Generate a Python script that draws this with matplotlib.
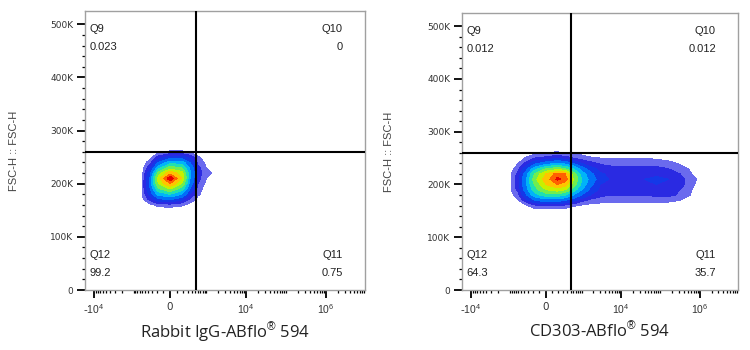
import numpy as np
import matplotlib
matplotlib.use('Agg')
import matplotlib.pyplot as plt

plt.rcParams['mathtext.fontset'] = 'custom'
plt.rcParams['mathtext.rm'] = 'Liberation Sans'
plt.rcParams['mathtext.it'] = 'Liberation Sans:italic'

# ---- data ----
x_gate = 530
y_gate = 260000
y_top = 525000
x_min, x_max = -16700, 9.4e6

# FSC-H rows of the density grid
fsc_rows = [150000, 160000, 170000, 180000, 190000, 200000, 210000,
            220000, 230000, 240000, 250000, 260000, 270000]

# left panel (isotype) density, columns = fluorescence
left_cols = [-1000, -600, -350, -180, 0, 180, 350, 600, 1000, 1700, 3000]
left_density = [
    [0, 0, 0, 0, 0, 0, 0, 0, 0, 0, 0],
    [0, 0, 0.02, 0.06, 0.07, 0.05, 0.02, 0, 0, 0, 0],
    [0, 0.02, 0.12, 0.22, 0.25, 0.18, 0.08, 0.02, 0, 0, 0],
    [0, 0.03, 0.20, 0.38, 0.45, 0.35, 0.17, 0.05, 0, 0, 0],
    [0, 0.04, 0.25, 0.52, 0.65, 0.50, 0.25, 0.07, 0, 0, 0],
    [0, 0.04, 0.28, 0.65, 0.85, 0.65, 0.32, 0.10, 0.02, 0, 0],
    [0, 0.03, 0.27, 0.70, 1.00, 0.75, 0.36, 0.12, 0.04, 0.02, 0],
    [0, 0.02, 0.22, 0.58, 0.82, 0.70, 0.38, 0.13, 0.05, 0.03, 0],
    [0, 0, 0.15, 0.40, 0.60, 0.55, 0.33, 0.12, 0.04, 0.02, 0],
    [0, 0, 0.07, 0.25, 0.40, 0.40, 0.25, 0.08, 0.02, 0, 0],
    [0, 0, 0.02, 0.12, 0.20, 0.20, 0.14, 0.05, 0, 0, 0],
    [0, 0, 0, 0.02, 0.05, 0.05, 0.03, 0, 0, 0, 0],
    [0, 0, 0, 0, 0, 0, 0, 0, 0, 0, 0],
]

# right panel (CD303) density
right_cols = [-1000, -600, -350, -180, 0, 180, 350, 600, 1000, 1700, 3000,
              5500, 10000, 20000, 40000, 80000, 160000, 320000, 640000, 1200000]
right_density = [
    [0] * 20,
    [0, 0, 0.03, 0.08, 0.10, 0.10, 0.08, 0.05, 0.03, 0.02, 0.02, 0.02, 0.02, 0.02, 0.02, 0.02, 0.02, 0, 0, 0],
    [0, 0.04, 0.14, 0.25, 0.30, 0.30, 0.25, 0.20, 0.12, 0.08, 0.06, 0.05, 0.05, 0.05, 0.05, 0.05, 0.05, 0.04, 0, 0],
    [0, 0.08, 0.24, 0.40, 0.50, 0.50, 0.45, 0.35, 0.25, 0.17, 0.12, 0.10, 0.10, 0.10, 0.10, 0.12, 0.12, 0.08, 0.03, 0],
    [0.02, 0.12, 0.30, 0.50, 0.65, 0.70, 0.65, 0.50, 0.35, 0.22, 0.15, 0.13, 0.13, 0.13, 0.14, 0.15, 0.15, 0.10, 0.04, 0],
    [0.02, 0.14, 0.34, 0.55, 0.75, 0.85, 0.80, 0.60, 0.42, 0.27, 0.17, 0.15, 0.15, 0.15, 0.16, 0.17, 0.16, 0.12, 0.05, 0],
    [0.02, 0.14, 0.34, 0.60, 0.80, 0.95, 0.90, 0.65, 0.45, 0.30, 0.20, 0.16, 0.15, 0.15, 0.17, 0.18, 0.17, 0.12, 0.05, 0.02],
    [0.02, 0.12, 0.30, 0.55, 0.75, 0.90, 0.85, 0.60, 0.40, 0.27, 0.18, 0.15, 0.15, 0.15, 0.16, 0.16, 0.15, 0.10, 0.04, 0],
    [0, 0.08, 0.22, 0.40, 0.55, 0.60, 0.55, 0.45, 0.30, 0.20, 0.14, 0.12, 0.12, 0.12, 0.12, 0.12, 0.10, 0.07, 0.02, 0],
    [0, 0.04, 0.12, 0.22, 0.30, 0.35, 0.32, 0.25, 0.17, 0.12, 0.09, 0.08, 0.08, 0.08, 0.08, 0.07, 0.06, 0.03, 0, 0],
    [0, 0, 0.05, 0.10, 0.12, 0.15, 0.13, 0.10, 0.07, 0.05, 0.04, 0.04, 0.04, 0.04, 0.04, 0.03, 0.02, 0, 0, 0],
    [0, 0, 0, 0.02, 0.04, 0.05, 0.04, 0.03, 0.02, 0, 0, 0, 0, 0, 0, 0, 0, 0, 0, 0],
    [0] * 20,
]

# quadrant values: Q9, Q10, Q11, Q12
left_quad = ['0.023', '0', '0.75', '99.2']
right_quad = ['0.012', '0.012', '35.7', '64.3']
x_titles = ['Rabbit IgG-ABflo$^{\u00ae}$ 594', 'CD303-ABflo$^{\u00ae}$ 594']

x_major = [-10000, 0, 10000, 1000000]
x_major_labels = ['-$10^4$', '0', '$10^4$', '$10^6$']
y_major = [0, 100000, 200000, 300000, 400000, 500000]
y_major_labels = ['0', '100K', '200K', '300K', '400K', '500K']

# ---- drawing ----
levels = [0.04, 0.1, 0.17, 0.25, 0.35, 0.45, 0.55, 0.65, 0.75, 0.85, 0.93, 1.01]
band_colors = ['#6a6aee', '#2a2ae2', '#1438e8', '#0070f8', '#00b4f8',
               '#20e0b0', '#70ee50', '#c8f000', '#ffc400', '#ff6000',
               '#e80000']

minor_x = []
for d in [100, 1000, 10000, 100000, 1000000]:
    for m in range(2, 10):
        minor_x.append(m * d)
        if d <= 1000:
            minor_x.append(-m * d)
minor_x += [-1000, -100, 100, 1000, 100000]
minor_y = [v for v in range(20000, 520000, 20000) if v % 100000 != 0]

fig = plt.figure(figsize=(7.5, 3.5), dpi=100)
ax_l = fig.add_axes([85 / 750, 60 / 350, 280 / 750, 279 / 350])
ax_r = fig.add_axes([462 / 750, 60 / 350, 276 / 750, 277 / 350])

panels = [
    (ax_l, left_cols, left_density, left_quad, x_titles[0], -0.236),
    (ax_r, right_cols, right_density, right_quad, x_titles[1], -0.246),
]

for ax, cols, dens, quad, title, ylab_x in panels:
    ax.set_xscale('asinh', linear_width=250)
    X, Y = np.meshgrid(cols, fsc_rows)
    ax.contourf(X, Y, np.array(dens), levels=levels, colors=band_colors,
                zorder=1)

    ax.axvline(x_gate, color='black', lw=1.5, zorder=3)
    ax.axhline(y_gate, color='black', lw=1.5, zorder=3)

    ax.set_xlim(x_min, x_max)
    ax.set_ylim(0, y_top)

    ax.set_xticks(x_major)
    ax.set_xticklabels(x_major_labels)
    ax.set_xticks(minor_x, minor=True)
    ax.set_yticks(y_major)
    ax.set_yticklabels(y_major_labels)
    ax.set_yticks(minor_y, minor=True)

    ax.tick_params(axis='both', which='major', length=5.5, width=1.3,
                   color='black', labelcolor='#333333')
    ax.tick_params(axis='both', which='minor', length=2.5, width=0.9,
                   color='black')
    ax.tick_params(axis='x', which='major', pad=3, labelsize=7.5)
    ax.tick_params(axis='y', which='major', pad=3, labelsize=6.5)

    for sp in ax.spines.values():
        sp.set_color('#a0a0a0')
        sp.set_linewidth(1.0)

    ax.set_ylabel('FSC-H :: FSC-H', fontsize=8, color='#444444',
                  family='Liberation Sans')
    ax.yaxis.set_label_coords(ylab_x, 0.5)
    ax.set_xlabel(title, fontsize=12, color='#222222', family='Open Sans')
    ax.xaxis.set_label_coords(0.5, -0.11)

    qfont = dict(fontsize=8, color='#222222', family='Liberation Sans',
                 transform=ax.transAxes, va='center')
    ax.text(0.015, 0.935, 'Q9', ha='left', **qfont)
    ax.text(0.015, 0.871, quad[0], ha='left', **qfont)
    ax.text(0.92, 0.935, 'Q10', ha='right', **qfont)
    ax.text(0.92, 0.871, quad[1], ha='right', **qfont)
    ax.text(0.92, 0.125, 'Q11', ha='right', **qfont)
    ax.text(0.92, 0.061, quad[2], ha='right', **qfont)
    ax.text(0.015, 0.125, 'Q12', ha='left', **qfont)
    ax.text(0.015, 0.061, quad[3], ha='left', **qfont)

fig.savefig('out.png', dpi=100)
